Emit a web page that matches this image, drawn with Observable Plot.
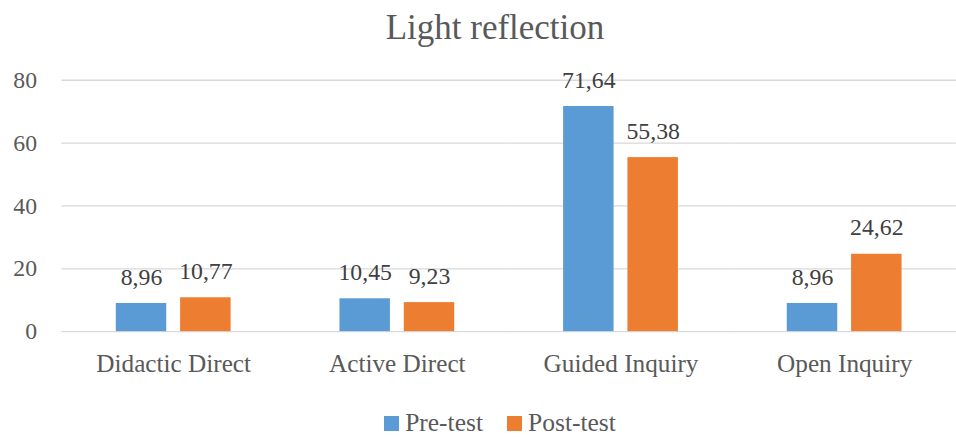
<!DOCTYPE html>
<html>
<head>
<meta charset="utf-8">
<script src="https://cdn.jsdelivr.net/npm/d3@7"></script>
<script src="https://cdn.jsdelivr.net/npm/@observablehq/plot@0.6"></script>
<style>
  html, body { margin: 0; padding: 0; background: #fff; }
  #wrap { width: 956px; height: 437px; overflow: hidden; position: relative; font-family: "Liberation Serif", serif; color: #595959; }
  #title { position: absolute; left: 0; top: 10px; width: 990px; height: 35px; line-height: 35px; text-align: center; font-size: 35px; white-space: nowrap; }
  #chart { position: absolute; left: 0; top: 56px; }
  #legend { position: absolute; left: 0; top: 410px; width: 1000px; height: 26px; line-height: 26px; font-size: 25.5px; display: flex; justify-content: center; white-space: nowrap; }
  #legend span.item { display: inline-block; margin: 0 12px; }
  #legend span.sw { display: inline-block; width: 15px; height: 15px; margin-right: 6px; }
</style>
</head>
<body>
<div id="wrap">
  <div id="title">Light reflection</div>
  <div id="chart"></div>
  <div id="legend"></div>
</div>
<script>
const categories = ["Didactic Direct", "Active Direct", "Guided Inquiry", "Open Inquiry"];
const series = ["Pre-test", "Post-test"];
const preTest = [8.96, 10.45, 71.64, 8.96];
const postTest = [10.77, 9.23, 55.38, 24.62];
const yTicks = [0, 20, 40, 60, 80];
const colors = ["#5B9BD5", "#ED7D31"];

const rows = [];
categories.forEach((c, i) => {
  rows.push({category: c, series: series[0], value: preTest[i]});
  rows.push({category: c, series: series[1], value: postTest[i]});
});
const fmt = v => v.toFixed(2).replace(".", ",");

const chart = Plot.plot({
  width: 966,
  height: 345,
  marginTop: 24,
  marginBottom: 67,
  marginLeft: 62,
  marginRight: 0,
  style: {fontFamily: "Liberation Serif, serif", fontSize: "24px", color: "#595959", background: "transparent", overflow: "visible"},
  fx: {domain: categories, padding: 0, label: null, axis: null},
  x: {domain: series, paddingInner: 0.2154, paddingOuter: 0.846, axis: null},
  y: {domain: [0, 80], label: null, axis: null},
  color: {domain: series, range: colors},
  marks: [
    Plot.ruleY(yTicks, {stroke: "#D9D9D9", strokeWidth: 1.3}),
    Plot.axisY(yTicks, {tickSize: 0, tickPadding: 25, tickFormat: d => String(d), label: null, fontSize: 24, fill: "#595959"}),
    Plot.axisFx({anchor: "bottom", tickSize: 0, tickPadding: 23, label: null, fontSize: 25.5, fill: "#595959"}),
    Plot.barY(rows, {fx: "category", x: "series", y: "value", fill: "series"}),
    Plot.text(rows, {fx: "category", x: "series", y: "value", text: d => fmt(d.value), lineAnchor: "bottom", dy: -19, fill: "#404040", fontSize: 24})
  ]
});
document.getElementById("chart").appendChild(chart);

const legend = document.getElementById("legend");
series.forEach((s, i) => {
  const item = document.createElement("span");
  item.className = "item";
  const sw = document.createElement("span");
  sw.className = "sw";
  sw.style.background = colors[i];
  item.appendChild(sw);
  item.appendChild(document.createTextNode(s));
  legend.appendChild(item);
});
</script>
</body>
</html>
